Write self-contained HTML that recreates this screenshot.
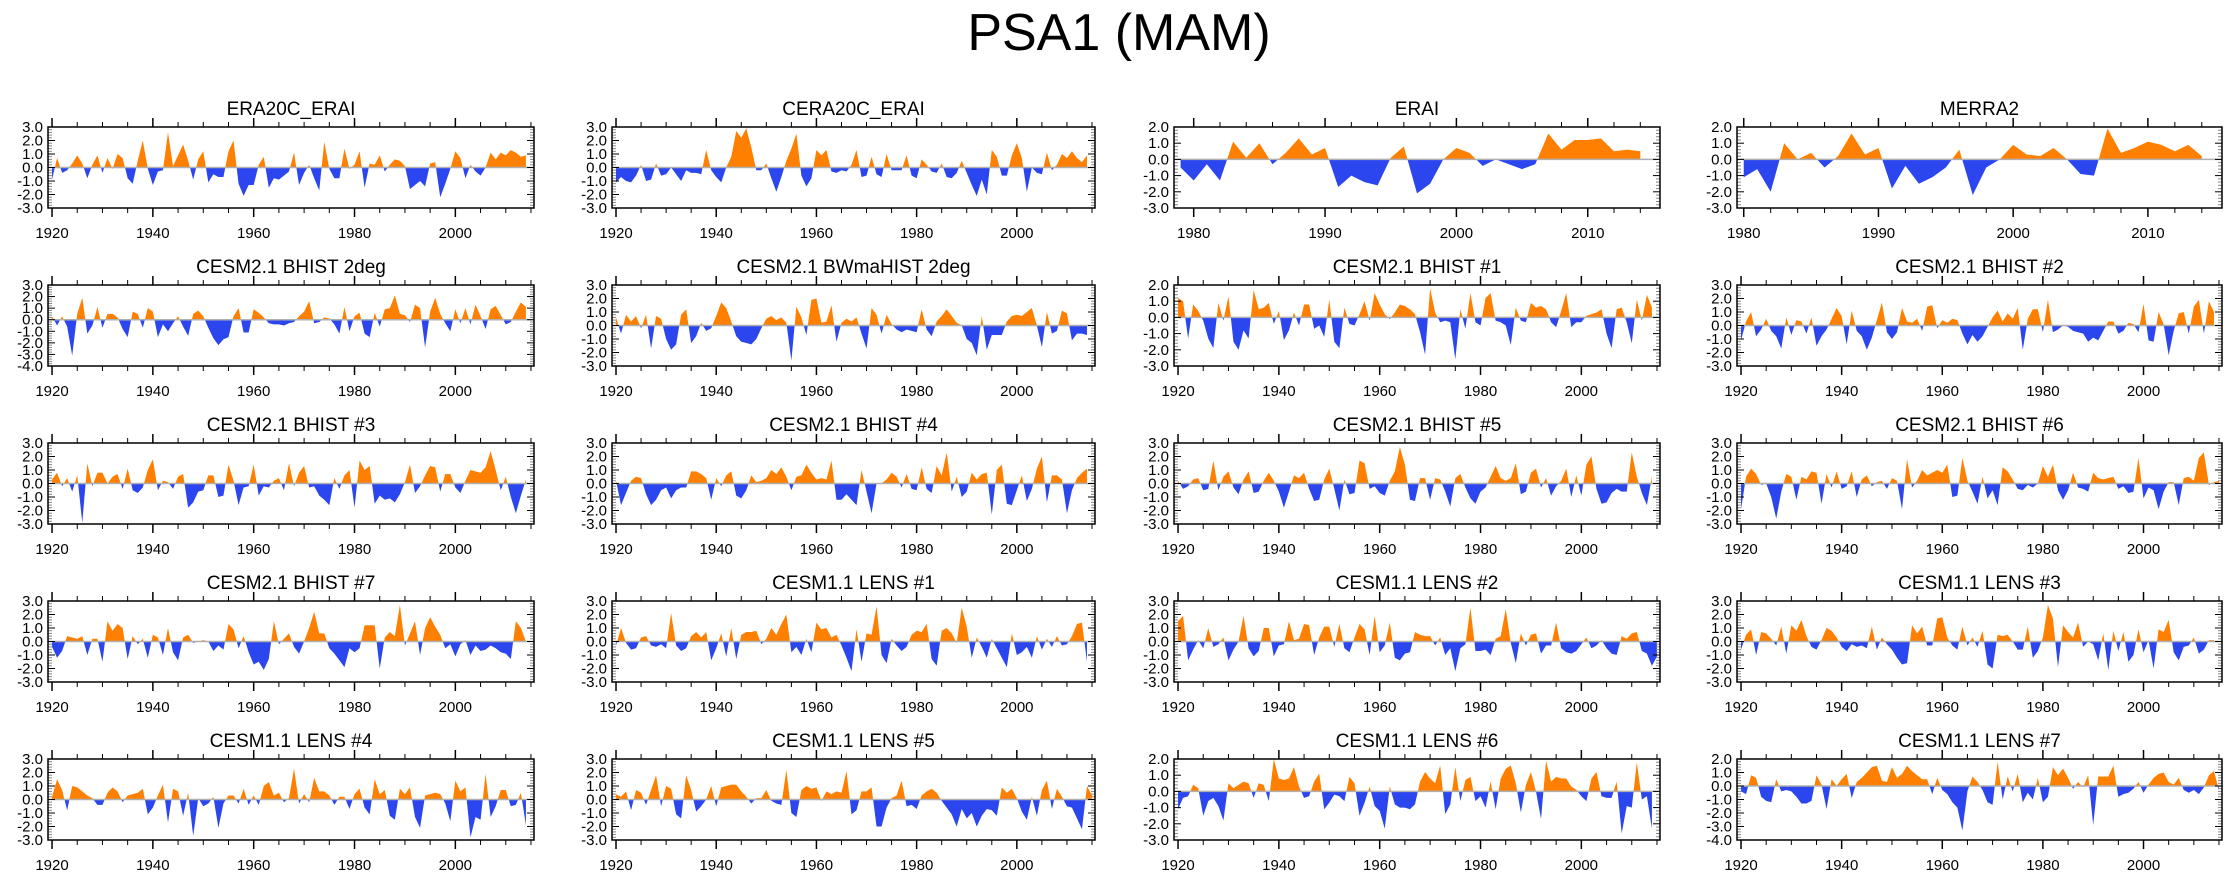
<!DOCTYPE html>
<html><head><meta charset="utf-8"><title>PSA1 (MAM)</title>
<style>
html,body{margin:0;padding:0;background:#fff;}
svg{display:block;font-family:"Liberation Sans",Arial,sans-serif;}
</style></head>
<body>
<svg id="fig" width="2238" height="877" viewBox="0 0 2238 877" xmlns="http://www.w3.org/2000/svg">
<text x="1119" y="50" font-size="52" text-anchor="middle" fill="#000">PSA1 (MAM)</text>
</svg>
<script>
// ---- data (annual anomalies) ----
const era20cErai = [-0.9,0.7,-0.4,-0.2,0.3,0.9,0.3,-0.8,0.2,0.9,-0.4,0.7,-0.1,1.0,0.7,-0.8,-1.2,0.5,2.0,-0.1,-1.3,-0.3,-0.2,2.6,0.1,0.9,1.7,0.5,-0.9,0.6,1.2,-1.1,-0.5,-0.7,-0.7,1.2,2.0,-1.2,-2.1,-1.3,-1.3,0.2,0.8,-1.5,-0.8,-0.9,-0.6,-0.3,1.1,-1.3,-0.4,0.2,-0.8,-1.7,1.9,-0.1,-0.8,-0.8,1.4,-0.1,0.2,1.2,-1.5,0.3,0.2,0.9,-0.3,0.2,0.6,0.5,0.1,-1.6,-1.3,-1.0,-1.4,0.3,0.4,-2.2,-1.2,-0.1,1.2,0.7,-0.8,0.2,-0.3,-0.6,0.0,1.1,0.6,1.1,0.9,1.3,1.1,0.8,0.9];
const cera20cErai = [-1.1,-0.7,-1.0,-1.1,-0.6,0.2,-1.0,-0.9,0.3,-0.6,-0.5,0.0,-0.5,-1.0,-0.2,-0.4,-0.4,-0.5,1.3,-0.2,-0.7,-1.1,0.0,0.8,2.7,2.2,2.9,1.5,-0.2,-0.2,0.3,-0.8,-1.8,-0.7,0.5,1.4,2.5,-0.6,-1.4,-0.8,1.3,0.9,1.3,-0.3,-0.4,-0.2,-0.3,0.2,1.3,-0.7,-0.6,0.8,-0.5,-0.7,1.0,-0.2,-0.2,-0.2,0.9,-0.6,-0.8,0.6,0.2,-0.3,-0.4,0.3,-0.7,-0.8,-0.4,0.5,-0.4,-1.3,-2.1,-0.9,-2.0,1.3,0.8,-0.6,-0.6,0.9,1.8,0.7,-1.8,0.0,-0.4,-0.5,1.1,-0.2,0.2,1.0,0.7,1.2,0.7,0.4,0.9];
const erai = [-0.5,-1.3,-0.3,-1.3,1.1,0.1,1.0,-0.3,0.4,1.3,0.3,0.7,-1.7,-1.0,-1.4,-1.6,0.1,0.8,-2.1,-1.5,0.0,0.7,0.4,-0.4,0.0,-0.3,-0.6,-0.3,1.6,0.6,1.2,1.2,1.3,0.5,0.6,0.5];
const merra2 = [-1.1,-0.6,-2.0,1.0,0.0,0.4,-0.5,0.2,1.6,0.3,0.7,-1.8,-0.4,-1.5,-1.1,-0.5,0.6,-2.2,-0.5,0.0,0.9,0.3,0.2,0.7,0.0,-0.9,-1.0,1.9,0.4,0.7,1.1,0.9,0.5,0.9,0.2];
const bhist2deg = [0.3,-0.5,0.3,-0.6,-3.1,0.5,1.9,-1.2,-0.5,1.1,-0.7,0.5,0.5,0.2,-0.8,-1.5,0.7,0.5,-0.7,1.0,0.7,-1.5,-0.4,-1.0,-0.3,0.3,-0.6,-1.4,0.5,0.8,0.3,-0.7,-1.6,-2.2,-1.7,-1.5,0.3,1.0,-1.1,-1.1,0.9,0.6,0.2,-0.3,-0.4,-0.4,-0.5,-0.3,-0.2,0.3,0.7,1.6,-0.3,-0.2,0.2,0.1,-0.4,-1.2,1.1,-1.0,0.3,0.6,-1.2,-1.5,0.6,-0.6,0.9,1.0,2.1,0.5,0.4,-0.2,1.3,1.0,-2.4,0.7,1.9,0.5,-0.3,-1.0,0.9,-0.3,1.0,-0.4,1.3,0.3,-0.8,0.9,1.2,0.4,-0.4,-0.2,0.7,1.5,1.1];
const bwmahist2deg = [0.6,-0.6,0.8,0.3,0.7,-0.2,0.8,-1.7,0.7,0.5,-1.0,-1.8,-1.4,0.8,1.2,-1.3,-0.8,0.2,-0.4,-0.2,0.7,1.7,1.3,0.3,-0.8,-1.2,-1.3,-1.4,-1.0,-0.2,0.5,0.7,0.4,0.6,0.2,-2.6,1.4,0.6,-0.7,1.9,2.0,0.2,0.3,1.5,-1.2,0.2,0.5,0.3,0.6,-0.6,-1.7,1.3,0.8,-0.6,0.8,0.1,-0.3,-0.5,-0.3,-0.4,-0.5,1.2,-0.3,-0.8,0.3,0.7,1.2,0.7,0.2,0.0,-1.0,-1.3,-2.2,0.7,-1.8,-0.7,-0.7,-0.7,0.3,0.7,0.8,0.7,1.0,1.3,0.0,-1.6,1.0,-0.6,-0.4,1.1,0.9,-1.1,-0.6,-0.6,-0.7];
const bhist1 = [1.2,1.0,-1.3,0.8,0.4,-0.2,-1.3,-1.9,0.9,-0.2,1.3,-1.5,-2.0,-0.8,-1.3,1.7,0.5,0.6,0.9,-0.4,0.4,-1.4,-0.8,0.3,-0.5,0.8,0.8,-0.7,-0.5,-1.2,1.1,-1.5,-1.9,0.6,-0.4,-0.5,0.2,1.0,-0.2,1.5,0.8,0.2,-0.1,0.3,0.8,0.7,0.5,0.2,-0.9,-2.3,1.8,0.3,-0.3,-0.2,-0.3,-2.6,0.5,-0.7,1.5,-0.3,-0.5,1.2,1.5,-0.2,-0.3,-0.5,-1.7,0.6,-0.2,-0.3,0.9,0.6,0.7,0.5,-0.3,-0.6,0.4,1.5,-0.6,-0.3,-0.3,0.1,0.2,0.3,0.5,-1.0,-1.9,0.5,0.6,-0.3,-1.6,1.1,-0.2,1.4,0.6];
const bhist2 = [-1.1,0.3,1.0,-0.8,-0.3,0.5,-0.4,-0.8,-1.7,0.6,-0.7,0.4,0.3,-0.6,0.6,-1.5,-0.8,-0.3,0.5,1.3,0.7,-1.4,1.1,-0.4,-0.8,-1.8,-0.9,0.4,1.7,-0.5,-1.0,-0.5,1.3,0.3,0.2,0.5,-0.4,1.4,1.5,-0.2,0.4,0.2,0.5,0.4,-0.6,-1.4,-0.7,-1.2,-0.8,-0.1,0.6,1.1,0.3,0.9,0.5,1.3,-1.8,0.5,1.2,1.2,-0.5,1.9,-0.5,-0.3,0.0,-0.1,-0.4,-0.5,-0.6,-1.2,-0.9,-1.1,-0.4,0.3,0.3,-0.6,-0.4,0.2,0.1,-0.5,1.6,-1.1,-1.2,1.0,0.1,-2.2,-0.4,0.9,1.0,-0.6,1.4,1.9,-0.6,1.8,1.0];
const bhist3 = [0.3,0.8,-0.2,0.4,-0.6,0.6,-2.9,1.5,-0.2,0.8,0.8,0.0,0.5,0.7,-0.4,1.1,-0.5,-0.7,-0.3,1.0,1.8,-0.5,0.2,0.1,-0.4,0.5,0.7,-1.8,-1.4,-0.6,-0.5,0.6,0.6,-1.0,-0.9,1.4,0.2,-1.6,-0.3,-0.2,1.4,-0.9,-0.2,-0.3,0.2,0.4,-0.5,1.5,-0.2,0.8,1.3,-0.3,-0.2,-0.9,-1.2,-1.6,0.4,-0.4,0.6,1.0,-1.8,1.7,1.0,1.3,-1.5,-0.9,-1.2,-1.1,-1.4,-0.8,0.1,1.4,-0.7,-0.2,0.6,1.3,1.2,-0.6,0.7,0.7,-0.3,-0.7,0.2,1.0,0.9,0.8,1.2,2.4,1.0,-0.5,0.5,-1.0,-2.2,-0.9,0.3];
const bhist4 = [0.2,-1.6,-0.7,0.2,0.5,0.4,-0.8,-1.6,-1.2,-0.5,-0.3,-1.1,-0.5,-0.3,-0.3,0.9,0.9,0.7,0.4,-1.2,0.4,-0.2,0.6,0.9,-0.9,-1.1,-0.5,0.6,0.1,0.2,0.4,1.0,0.7,1.2,0.5,-0.5,0.5,0.6,1.4,0.8,0.3,0.4,0.3,1.7,-1.2,-1.2,-0.8,-1.2,-1.6,1.0,-0.6,-2.2,0.0,0.0,0.3,0.8,0.5,-0.3,0.7,-0.4,-0.5,1.2,-0.4,-0.7,1.3,0.6,2.3,-0.6,0.5,-1.0,-0.6,0.8,0.3,0.7,0.8,-2.3,1.0,1.4,-1.5,-1.6,-0.5,0.6,-1.3,-0.4,1.1,2.0,-1.4,0.6,0.6,0.3,-2.2,-0.5,0.4,0.8,1.1];
const bhist5 = [0.2,-0.4,-0.2,0.3,0.4,-0.5,-0.4,1.7,-0.5,0.5,0.9,-0.3,-0.8,0.3,0.9,-0.7,-0.6,0.2,0.8,0.2,-0.6,-1.8,-0.6,0.6,0.4,0.8,-0.4,-1.3,-1.2,0.3,1.1,-0.4,-2.0,0.3,-0.8,-0.7,1.7,1.5,-0.4,-0.2,-0.7,-0.9,0.2,0.9,2.7,1.4,-1.2,-1.3,0.4,0.4,-1.2,0.4,0.3,-0.6,-1.7,0.4,0.7,-0.3,-1.1,-1.5,-0.6,-0.3,0.5,1.3,0.4,0.2,0.4,1.5,-0.8,-0.6,0.8,1.1,-0.3,0.4,-0.9,-0.2,0.2,1.1,-1.0,0.6,-0.9,1.4,2.0,-0.4,-1.5,-1.4,-0.7,-0.4,-0.6,-0.6,2.3,0.5,-0.7,-1.6,0.5];
const bhist6 = [-1.9,0.5,1.1,0.7,-0.1,0.0,-1.0,-2.6,-0.6,0.7,0.5,-1.2,0.5,0.3,0.9,0.8,-1.5,0.7,-0.3,0.9,-0.4,-0.2,0.9,-1.0,0.3,0.6,-0.2,0.1,0.2,-0.4,0.4,0.2,-1.9,1.8,-0.3,0.2,1.0,0.6,0.8,1.0,0.8,1.4,-1.0,-0.9,1.9,0.2,-0.6,-1.5,0.5,-1.1,-0.5,-1.6,1.2,0.9,0.3,-0.4,-0.5,-0.1,-0.3,0.0,1.3,0.5,1.4,-0.5,-1.2,-0.5,0.8,-0.3,-0.4,-0.6,0.8,0.4,0.3,0.4,0.5,-0.4,-0.2,-0.7,-0.6,1.9,-1.1,-0.3,-0.5,-1.9,-0.6,0.1,0.1,-1.6,0.4,0.5,0.2,1.9,2.3,-0.1,0.1,0.2];
const bhist7 = [-0.4,-1.2,-0.7,0.4,0.3,0.2,0.4,-1.0,0.2,0.2,-1.5,1.5,0.8,1.3,1.0,-1.3,0.4,-0.2,0.2,-1.2,0.5,0.3,-1.0,1.0,-0.8,-1.4,0.3,0.5,-0.1,0.0,0.1,0.0,-0.7,-0.3,-0.6,1.3,0.9,-0.5,0.4,-0.8,-1.7,-1.5,-2.1,-1.3,1.5,-0.2,0.2,0.6,-0.4,-0.9,0.0,1.0,2.2,0.6,0.6,-0.5,-0.9,-1.4,-1.9,-0.5,-0.8,-0.5,1.2,1.2,1.2,-2.0,0.3,0.7,0.4,2.7,-0.3,0.6,1.5,-1.0,1.0,1.8,1.1,0.5,-0.5,-0.2,-1.1,-0.2,0.1,-1.0,-0.3,-0.7,-0.6,-0.3,-0.5,-0.8,-0.9,-1.3,1.5,1.0,0.0];
const lens1 = [-0.3,1.0,-0.1,-0.6,-0.5,0.3,0.4,-0.3,-0.4,-0.2,-0.5,2.1,-0.3,-0.7,-0.5,0.4,0.7,0.3,0.7,-1.4,-0.5,0.6,-1.1,1.0,-1.3,0.5,0.7,0.7,0.8,-0.2,0.2,1.0,0.5,1.3,2.0,-0.8,-0.4,-1.0,0.2,-0.8,1.4,0.9,1.0,0.3,0.5,-0.3,-1.2,-2.2,0.9,-1.5,0.6,0.5,2.6,-1.0,-1.6,0.2,-0.3,-0.7,-0.4,0.5,0.8,0.7,1.3,-1.3,-1.8,0.8,1.0,0.6,-0.1,2.5,1.1,-1.2,0.3,-0.4,-1.2,0.2,-0.5,-1.2,-1.9,0.6,-1.0,-0.8,-0.4,-1.2,0.4,-0.6,0.2,-0.4,0.4,-0.3,-0.2,0.4,1.3,1.4,-1.5];
const lens2 = [1.5,1.9,-1.4,-0.6,0.1,-0.5,1.0,-0.4,-0.2,0.3,-1.4,-0.6,0.0,1.9,-0.5,-1.1,-0.7,1.0,1.0,-1.1,-0.3,-0.2,1.5,0.1,0.2,1.3,1.2,-1.0,0.3,1.1,1.1,-0.4,1.3,-0.5,-0.8,0.3,1.3,0.9,-1.0,1.9,-0.8,-0.3,1.4,-1.2,-1.4,-0.9,-0.8,0.7,0.5,0.4,0.4,-0.3,0.3,-1.0,-0.5,-2.2,-0.5,-0.2,2.5,-0.7,-0.7,-0.6,-1.0,0.2,0.4,2.4,-0.1,-1.6,0.6,-0.3,0.5,0.6,-0.9,-0.3,-0.3,1.4,-0.5,-0.8,-0.9,-0.7,-0.2,0.3,-0.5,-0.3,0.1,-0.5,-0.9,-1.0,0.4,0.2,0.6,0.7,-0.7,-0.9,-1.8,-1.1];
const lens3 = [-0.6,0.5,0.9,-1.0,0.7,0.6,0.2,-0.3,1.1,-0.9,1.2,0.8,1.6,0.4,-0.4,-0.6,0.1,1.0,0.8,0.3,-0.4,-0.7,-0.2,-0.4,-0.3,-0.5,1.1,-0.6,0.3,-0.2,-0.6,-1.2,-1.7,-1.6,1.2,0.6,1.1,-0.3,-0.3,1.7,1.8,0.3,-0.3,-0.6,1.1,-0.3,0.3,-0.4,0.8,-1.7,-2.0,0.5,0.4,0.5,0.0,-0.6,-0.6,1.1,-1.2,-0.7,0.3,2.7,1.7,-1.9,1.2,0.7,0.3,1.4,-0.4,0.0,-0.2,-1.4,0.6,-2.1,0.8,-0.7,0.7,-1.5,-1.0,0.9,-0.8,0.1,-2.0,0.9,0.7,1.6,-0.8,-1.4,-0.4,-0.3,0.3,-0.9,-0.6,0.1,0.1];
const lens4 = [0.2,1.5,0.7,-0.8,1.0,0.9,0.6,0.3,0.1,-0.4,-0.4,0.5,0.9,0.6,-0.2,0.3,0.4,0.5,0.8,-1.1,-0.6,0.3,1.1,-1.7,0.8,0.6,-1.2,0.5,-2.7,0.1,-0.5,-0.3,0.2,-2.1,-0.3,0.3,0.3,-0.3,0.8,-0.4,0.3,-0.4,1.0,1.3,0.3,0.5,-0.2,0.1,2.3,-0.3,0.4,-0.2,1.6,0.6,0.6,0.3,-0.4,0.2,0.2,-0.7,0.4,0.8,-0.6,-1.1,1.5,0.4,0.7,-1.2,-1.5,0.8,0.4,0.9,-1.3,-2.1,0.3,0.4,0.5,0.4,-0.3,-1.6,1.4,0.6,0.9,-2.8,-1.3,-1.5,1.9,-1.3,-0.5,0.7,0.7,-0.5,-0.4,0.5,-1.9];
const lens5 = [0.4,0.2,0.6,-0.8,0.7,0.5,-0.4,0.7,1.8,-0.5,1.0,0.8,-1.1,-1.4,1.8,0.7,-0.9,-0.5,0.0,1.0,-0.5,0.9,1.0,1.1,1.1,0.6,0.2,-0.3,0.1,0.1,0.7,-0.1,-0.3,-0.4,2.2,-1.0,-1.3,0.7,1.0,0.8,0.9,-0.1,0.6,0.4,0.6,0.5,2.1,-1.1,-0.8,0.6,0.6,0.9,-2.0,-2.0,-0.6,0.1,0.3,1.4,-0.5,-0.4,-0.7,0.3,0.6,0.8,0.5,-0.1,-0.6,-1.1,-2.0,-0.7,-1.4,-1.0,-2.0,-1.2,-0.7,-0.8,-1.2,0.9,0.5,0.8,0.1,-0.9,-1.5,0.2,-1.2,0.7,1.4,-0.7,0.8,0.2,-0.5,-0.6,-1.4,-2.2,1.0,0.3];
const lens6 = [-1.1,-0.4,-0.3,0.4,0.2,-1.5,-0.6,-0.4,-0.9,-1.8,0.5,0.2,0.4,0.6,0.5,-0.4,0.5,0.4,-0.6,2.0,0.8,0.7,0.8,1.5,0.3,-0.4,-0.3,0.6,1.1,-1.1,-0.7,-0.2,-0.3,-0.6,0.9,0.5,-1.5,-0.7,0.3,-0.9,-1.2,-2.3,0.3,-0.8,-1.0,-1.0,-1.1,-0.8,0.6,1.2,0.8,0.5,1.6,-1.4,-0.8,1.5,-0.6,0.7,0.9,-0.6,-0.3,-1.0,0.6,-1.1,0.8,1.4,1.6,0.5,-1.3,0.4,1.2,0.0,-1.7,1.9,0.6,0.9,0.8,0.8,0.3,0.1,-0.3,-0.6,0.8,1.2,-0.3,-0.4,-0.4,0.6,-2.6,-0.9,-1.0,1.8,-0.5,-0.3,-2.3];
const lens7 = [-0.4,-0.6,0.8,0.6,-0.8,-1.1,-1.2,0.5,-0.4,-0.3,-0.4,-0.8,-1.3,-1.3,-1.1,0.8,0.1,-1.7,0.5,0.0,0.5,0.9,-0.9,0.3,0.6,1.0,1.4,1.5,0.4,0.3,1.4,0.6,0.9,1.5,1.1,0.8,0.5,0.5,-0.6,0.6,-0.3,-0.6,-1.2,-1.6,-3.3,-0.4,0.7,0.3,-0.3,-1.2,-1.4,1.8,-1.0,0.7,-0.4,0.9,-1.2,-0.5,-1.0,0.6,-1.2,-0.8,1.4,0.8,1.3,0.6,-0.2,0.3,-0.1,0.8,-2.9,0.7,0.7,0.7,1.5,-0.8,-0.6,-0.5,-0.2,0.3,-0.5,0.1,0.6,0.9,1.0,0.3,0.1,0.6,-0.3,-0.5,-0.3,-0.6,-0.1,0.8,1.1,-0.3];

const panelTitles = ["ERA20C_ERAI","CERA20C_ERAI","ERAI","MERRA2","CESM2.1 BHIST 2deg","CESM2.1 BWmaHIST 2deg","CESM2.1 BHIST #1","CESM2.1 BHIST #2","CESM2.1 BHIST #3","CESM2.1 BHIST #4","CESM2.1 BHIST #5","CESM2.1 BHIST #6","CESM2.1 BHIST #7","CESM1.1 LENS #1","CESM1.1 LENS #2","CESM1.1 LENS #3","CESM1.1 LENS #4","CESM1.1 LENS #5","CESM1.1 LENS #6","CESM1.1 LENS #7"];
const panelSeries = [era20cErai,cera20cErai,erai,merra2,bhist2deg,bwmahist2deg,bhist1,bhist2,bhist3,bhist4,bhist5,bhist6,bhist7,lens1,lens2,lens3,lens4,lens5,lens6,lens7];
const startYears = [1920,1920,1979,1980,1920,1920,1920,1920,1920,1920,1920,1920,1920,1920,1920,1920,1920,1920,1920,1920];
const yMins = [-3,-3,-3,-3,-4,-3,-3,-3,-3,-3,-3,-3,-3,-3,-3,-3,-3,-3,-3,-4];
const yMaxs = [3,3,2,2,3,3,2,3,3,3,3,3,3,3,3,3,3,3,2,2];

// ---- layout ----
const colX = [[48,534],[612,1095],[1174,1660],[1737,2222]];
const rowTop = [127,285,443,601,759];
const boxH = 81;
const NS = "http://www.w3.org/2000/svg";
const svg = document.getElementById('fig');
const ORANGE = "#ff8000", BLUE = "#2b46ee";

function mk(tag, attrs, parent){
  const e = document.createElementNS(NS, tag);
  for (const k in attrs) e.setAttribute(k, attrs[k]);
  (parent||svg).appendChild(e);
  return e;
}

panelSeries.forEach((series, i) => {
  const col = i % 4, row = Math.floor(i / 4);
  const x0 = colX[col][0], x1 = colX[col][1];
  const y0 = rowTop[row], y1 = y0 + boxH;
  const reanalysis = startYears[i] >= 1979;
  const xmin = reanalysis ? startYears[i] - 0.5 : 1919.2;
  const xmax = reanalysis ? 2015.5 : 2015.6;
  const majorStep = reanalysis ? 10 : 20, minorStep = reanalysis ? 2 : 5;
  const ymin = yMins[i], ymax = yMaxs[i];
  const sx = v => x0 + (v - xmin) / (xmax - xmin) * (x1 - x0);
  const sy = v => y1 - (v - ymin) / (ymax - ymin) * (y1 - y0);

  const g = mk('g', {});
  
  

  const t = mk('text', {x:(x0+x1)/2, y:y0-12, 'font-size':19, 'text-anchor':'middle', fill:'#000'}, g);
  
  
  t.textContent = panelTitles[i];

  // fills
  const cidA = 'ca' + i, cidB = 'cb' + i;
  const defs = mk('defs', {}, g);
  const cpA = mk('clipPath', {id:cidA}, defs);
  mk('rect', {x:x0, y:y0, width:x1-x0, height:sy(0)-y0}, cpA);
  const cpB = mk('clipPath', {id:cidB}, defs);
  mk('rect', {x:x0, y:sy(0), width:x1-x0, height:y1-sy(0)}, cpB);
  let d = 'M' + sx(startYears[i]).toFixed(2) + ',' + sy(0).toFixed(2);
  series.forEach((v, k) => { d += ' L' + sx(startYears[i]+k).toFixed(2) + ',' + sy(v).toFixed(2); });
  d += ' L' + sx(startYears[i]+series.length-1).toFixed(2) + ',' + sy(0).toFixed(2) + ' Z';
  const pa = mk('path', {d:d, fill:ORANGE, 'clip-path':'url(#'+cidA+')'}, g);
  
  
  const pb = mk('path', {d:d, fill:BLUE, 'clip-path':'url(#'+cidB+')'}, g);
  
  
  const zl = mk('line', {x1:x0, x2:x1, y1:sy(0), y2:sy(0), stroke:'#b0b0b0', 'stroke-width':1.5}, g);
  
  

  // y ticks + labels
  for (let v = ymin; v <= ymax + 1e-6; v += 0.2) {
    const vv = Math.round(v*10)/10;
    const major = Math.abs(vv - Math.round(vv)) < 1e-6;
    const L = major ? 7 : 4, col2 = major ? '#000' : '#888';
    mk('line', {x1:x0, x2:x0+L, y1:sy(vv), y2:sy(vv), stroke:col2, 'stroke-width':1}, g);
    mk('line', {x1:x1, x2:x1-L, y1:sy(vv), y2:sy(vv), stroke:col2, 'stroke-width':1}, g);
    if (major) {
      const yl = mk('text', {x:x0-5, y:sy(vv)+5, 'font-size':15, 'text-anchor':'end', fill:'#000'}, g);
      
      
      yl.textContent = vv.toFixed(1);
    }
  }
  // x ticks + labels
  const firstMinor = Math.ceil(xmin / minorStep) * minorStep;
  for (let yr = firstMinor; yr <= xmax; yr += minorStep) {
    const major = yr % majorStep === 0;
    const L = major ? 9 : 5;
    mk('line', {x1:sx(yr), x2:sx(yr), y1:y0, y2:y0-L, stroke:'#000', 'stroke-width':major?1.5:1}, g);
    mk('line', {x1:sx(yr), x2:sx(yr), y1:y1, y2:y1+L, stroke:'#000', 'stroke-width':major?1.5:1}, g);
    if (major) {
      const xl = mk('text', {x:sx(yr), y:y1+30, 'font-size':15, 'text-anchor':'middle', fill:'#000'}, g);
      
      
      xl.textContent = yr;
    }
  }
  const box = mk('rect', {x:x0, y:y0, width:x1-x0, height:y1-y0, fill:'none', stroke:'#000', 'stroke-width':1.5}, g);
  
  
});
</script>
</body></html>
